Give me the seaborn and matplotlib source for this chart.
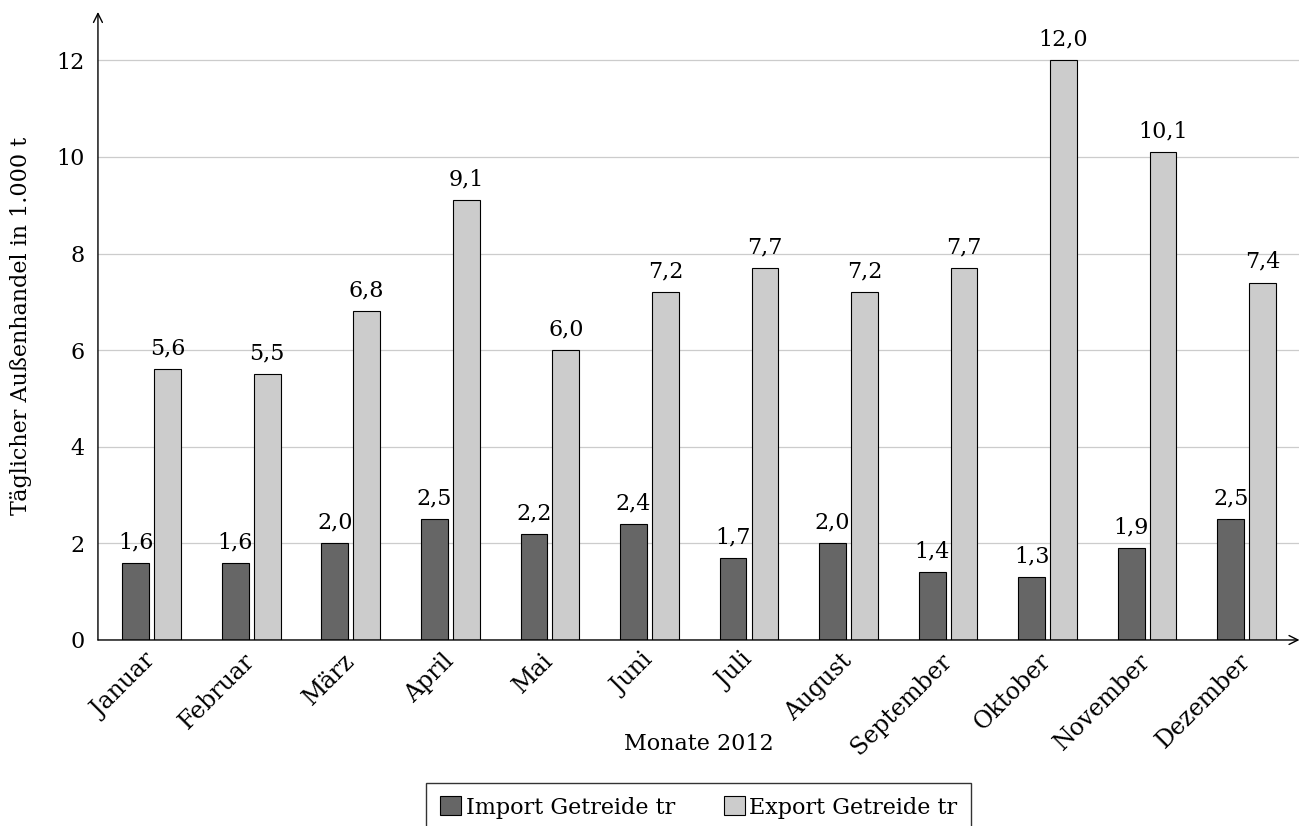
import pandas as pd
import matplotlib.pyplot as plt
import seaborn as sns

months = ["Januar", "Februar", "März", "April", "Mai", "Juni", "Juli",
          "August", "September", "Oktober", "November", "Dezember"]
import_vals = [1.6, 1.6, 2.0, 2.5, 2.2, 2.4, 1.7, 2.0, 1.4, 1.3, 1.9, 2.5]
export_vals = [5.6, 5.5, 6.8, 9.1, 6.0, 7.2, 7.7, 7.2, 7.7, 12.0, 10.1, 7.4]
series = ["Import Getreide tr", "Export Getreide tr"]
yticks = [0, 2, 4, 6, 8, 10, 12]

df = pd.DataFrame({
    "Monat": months * 2,
    "Wert": import_vals + export_vals,
    "Serie": [series[0]] * len(months) + [series[1]] * len(months),
})

sns.set_theme(style="white")
plt.rcParams['font.family'] = ['DejaVu Serif']
plt.rcParams['font.size'] = 16
plt.rcParams['text.color'] = 'black'
plt.rcParams['axes.labelcolor'] = 'black'
plt.rcParams['xtick.labelcolor'] = 'black'
plt.rcParams['ytick.labelcolor'] = 'black'

fig = plt.figure(figsize=(13.06, 8.26), dpi=100)
ax = fig.add_axes([0.075, 0.2252, 0.92, 0.7603])

sns.barplot(data=df, x="Monat", y="Wert", hue="Serie", order=months,
            hue_order=series, palette=["#666666", "#cccccc"],
            width=0.64, gap=0.16, edgecolor="black", linewidth=0.8,
            ax=ax, zorder=3)

for cont in ax.containers:
    ax.bar_label(cont, labels=[f"{v:.1f}".replace(".", ",") for v in cont.datavalues],
                 padding=7, fontsize=16, color="black", zorder=4)

ax.set_xlim(-0.54, 11.53)
ax.set_ylim(0, 13)
ax.set_yticks(yticks)
ax.set_yticklabels([str(t) for t in yticks], fontsize=16)
ax.yaxis.grid(True, color="#cccccc", linewidth=0.9, zorder=0)
ax.xaxis.grid(False)
ax.set_axisbelow(True)

ax.set_xticks(range(len(months)))
ax.set_xticklabels(months, rotation=45, ha="right", va="center",
                   rotation_mode="anchor", fontsize=17)
ax.tick_params(axis="both", direction="inout", length=7, width=0.8, color="#999999")
ax.tick_params(axis="x", pad=9)
ax.tick_params(axis="y", pad=6)

for s in ax.spines.values():
    s.set_visible(False)
ax.annotate("", xy=(1.0, 0), xytext=(0, 0), xycoords="axes fraction",
            arrowprops=dict(arrowstyle="->", color="black", lw=1.0,
                            shrinkA=0, shrinkB=0))
ax.annotate("", xy=(0, 1.0), xytext=(0, 0), xycoords="axes fraction",
            arrowprops=dict(arrowstyle="->", color="black", lw=1.0,
                            shrinkA=0, shrinkB=0))

ax.set_xlabel("Monate 2012", fontsize=16)
ax.xaxis.set_label_coords(0.5, -0.148)
ax.set_ylabel("Täglicher Außenhandel in 1.000 t", fontsize=16)
ax.yaxis.set_label_coords(-0.055, 0.5)

ax.legend(loc="upper center", bbox_to_anchor=(0.5, -0.227), ncol=2,
          frameon=True, fancybox=False, edgecolor="#333333", framealpha=1,
          fontsize=16, handlelength=0.95, handleheight=0.95, handletextpad=0.2,
          columnspacing=2.2, borderpad=0.62, borderaxespad=0)

fig.savefig("out.png", dpi=100)
